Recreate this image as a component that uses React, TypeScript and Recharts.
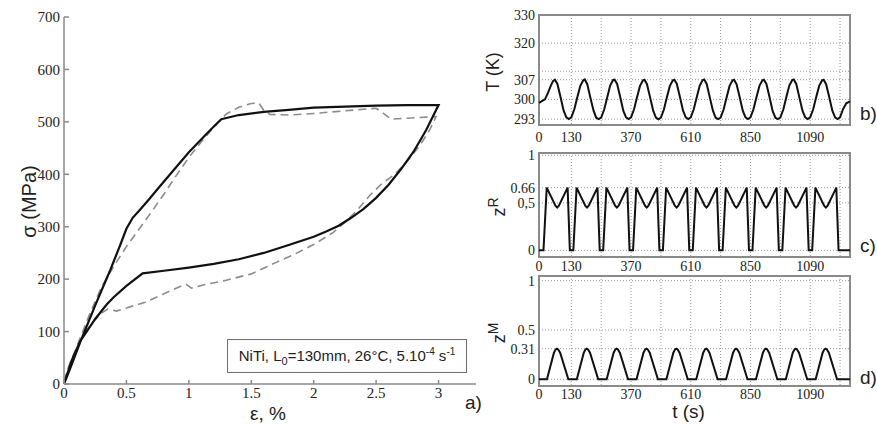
import React from 'react';
import { LineChart, Line, XAxis, YAxis, CartesianGrid, ReferenceArea, Label } from 'recharts';

// a) stress-strain loop (strain in %, stress in MPa)
const strainTicks = [0, 0.5, 1, 1.5, 2, 2.5, 3];
const stressTicks = [0, 100, 200, 300, 400, 500, 600, 700];

// model (solid): loading then unloading
const modelStrain = [0, 0.05, 0.13, 0.25, 0.37, 0.45, 0.5, 0.55, 0.6, 0.68, 0.75, 0.85, 1.0, 1.1, 1.2, 1.26, 1.4, 1.6, 1.8, 2.0, 2.25, 2.5, 2.75, 3.0,
  2.9, 2.8, 2.7, 2.6, 2.5, 2.4, 2.3, 2.2, 2.1, 2.0, 1.8, 1.6, 1.4, 1.2, 1.0, 0.8, 0.63, 0.5, 0.4, 0.34, 0.25, 0.13, 0.06, 0];
const modelStress = [0, 30, 80, 150, 217, 265, 296, 317, 330, 352, 372, 400, 442, 467, 491, 505, 513, 519, 523, 527, 529, 531, 532, 532,
  484, 443, 410, 380, 355, 334, 317, 302, 291, 281, 265, 250, 238, 229, 222, 216, 211, 187, 166, 151, 124, 82, 44, 0];

// experiment (dashed)
const testStrain = [0, 0.04, 0.1, 0.2, 0.3, 0.4, 0.5, 0.6, 0.7, 0.8, 0.9, 1.0, 1.1, 1.2, 1.3, 1.4, 1.5, 1.56, 1.6, 1.65, 1.8, 2.0, 2.2, 2.4, 2.5, 2.55, 2.62, 2.75, 2.9, 2.98,
  2.93, 2.85, 2.75, 2.65, 2.55, 2.45, 2.35, 2.25, 2.15, 2.0, 1.85, 1.7, 1.5, 1.3, 1.1, 1.02, 0.98, 0.93, 0.8, 0.65, 0.5, 0.42, 0.35, 0.3, 0.22, 0.15, 0.08, 0.02, 0];
const testStress = [5, 35, 70, 130, 185, 225, 262, 295, 328, 362, 398, 432, 462, 490, 515, 528, 535, 536, 522, 514, 513, 516, 520, 524, 526, 518, 505, 507, 509, 510,
  485, 455, 425, 400, 383, 360, 332, 308, 288, 266, 248, 232, 210, 198, 188, 183, 190, 186, 172, 156, 145, 139, 143, 135, 115, 90, 55, 20, 8];

// b) c) d) time histories
const timeTicks = [0, 130, 250, 370, 490, 610, 730, 850, 970, 1090, 1210];
const timeTickLabels = [0, 130, 370, 610, 850, 1090];

const tempTime = [0, 10, 24, 36, 48, 57,
  64, 74, 86, 99, 110, 120, 130, 142, 154, 166, 178,
  184, 194, 206, 219, 230, 240, 250, 262, 274, 286, 298,
  304, 314, 326, 339, 350, 360, 370, 382, 394, 406, 418,
  424, 434, 446, 459, 470, 480, 490, 502, 514, 526, 538,
  544, 554, 566, 579, 590, 600, 610, 622, 634, 646, 658,
  664, 674, 686, 699, 710, 720, 730, 742, 754, 766, 778,
  784, 794, 806, 819, 830, 840, 850, 862, 874, 886, 898,
  904, 914, 926, 939, 950, 960, 970, 982, 994, 1006, 1018,
  1024, 1034, 1046, 1059, 1070, 1080, 1090, 1102, 1114, 1126, 1138,
  1144, 1154, 1166, 1179, 1190, 1200, 1210, 1222, 1235, 1250];
const tempK = [298.8, 299.3, 300, 302.3, 305, 306.6,
  307, 305.5, 301, 296, 293.6, 293, 293.6, 296.5, 300.8, 304.8, 306.8,
  307.1, 305.4, 300.8, 296.1, 293.5, 293, 293.5, 296.4, 300.7, 304.9, 306.9,
  307, 305.5, 301, 295.9, 293.6, 293, 293.6, 296.5, 300.8, 304.8, 306.8,
  307, 305.4, 300.9, 296, 293.5, 292.9, 293.5, 296.4, 300.8, 304.8, 306.8,
  307, 305.5, 301, 296, 293.6, 293, 293.6, 296.5, 300.8, 304.9, 306.9,
  307.1, 305.5, 300.9, 296, 293.5, 293, 293.5, 296.4, 300.7, 304.8, 306.8,
  307, 305.4, 301, 296, 293.6, 293, 293.6, 296.5, 300.8, 304.8, 306.8,
  307, 305.5, 301, 295.9, 293.5, 293, 293.5, 296.4, 300.8, 304.9, 306.9,
  307.1, 305.5, 300.9, 296, 293.6, 293, 293.6, 296.5, 300.8, 304.8, 306.8,
  307, 305.4, 301, 296, 293.6, 293, 293.6, 296.5, 298.6, 299.3];
const tempTicks = [293, 300, 307, 310, 320, 330];
const tempTickText = ['293', '300', '307', '', '320', '330'];

const zrTime = [0, 18, 31, 66, 73, 80, 115, 124,
  138, 151, 186, 193, 200, 235, 244,
  258, 271, 306, 313, 320, 355, 364,
  378, 391, 426, 433, 440, 475, 484,
  498, 511, 546, 553, 560, 595, 604,
  618, 631, 666, 673, 680, 715, 724,
  738, 751, 786, 793, 800, 835, 844,
  858, 871, 906, 913, 920, 955, 964,
  978, 991, 1026, 1033, 1040, 1075, 1084,
  1098, 1111, 1146, 1153, 1160, 1195, 1204,
  1250];
const zrValue = [0, 0, 0.66, 0.47, 0.45, 0.47, 0.66, 0,
  0, 0.66, 0.47, 0.45, 0.47, 0.66, 0,
  0, 0.66, 0.47, 0.45, 0.47, 0.66, 0,
  0, 0.66, 0.47, 0.45, 0.47, 0.66, 0,
  0, 0.66, 0.47, 0.45, 0.47, 0.66, 0,
  0, 0.66, 0.47, 0.45, 0.47, 0.66, 0,
  0, 0.66, 0.47, 0.45, 0.47, 0.66, 0,
  0, 0.66, 0.47, 0.45, 0.47, 0.66, 0,
  0, 0.66, 0.47, 0.45, 0.47, 0.66, 0,
  0, 0.66, 0.47, 0.45, 0.47, 0.66, 0,
  0];
const zrTicks = [0, 0.5, 0.66, 1];
const zrTickText = ['0', '0,5', '0.66', '1'];

const zmTime = [0, 32, 60, 67, 72, 77, 85, 118,
  152, 180, 187, 192, 197, 205, 238,
  272, 300, 307, 312, 317, 325, 358,
  392, 420, 427, 432, 437, 445, 478,
  512, 540, 547, 552, 557, 565, 598,
  632, 660, 667, 672, 677, 685, 718,
  752, 780, 787, 792, 797, 805, 838,
  872, 900, 907, 912, 917, 925, 958,
  992, 1020, 1027, 1032, 1037, 1045, 1078,
  1112, 1140, 1147, 1152, 1157, 1165, 1198,
  1250];
const zmValue = [0, 0, 0.27, 0.303, 0.31, 0.303, 0.27, 0,
  0, 0.27, 0.303, 0.31, 0.303, 0.27, 0,
  0, 0.27, 0.303, 0.31, 0.303, 0.27, 0,
  0, 0.27, 0.303, 0.31, 0.303, 0.27, 0,
  0, 0.27, 0.303, 0.31, 0.303, 0.27, 0,
  0, 0.27, 0.303, 0.31, 0.303, 0.27, 0,
  0, 0.27, 0.303, 0.31, 0.303, 0.27, 0,
  0, 0.27, 0.303, 0.31, 0.303, 0.27, 0,
  0, 0.27, 0.303, 0.31, 0.303, 0.27, 0,
  0, 0.27, 0.303, 0.31, 0.303, 0.27, 0,
  0];
const zmTicks = [0, 0.31, 0.5, 1];
const zmTickText = ['0', '0.31', '0.5', '1'];

const serifStyle = { fontFamily: "'Liberation Serif', 'Times New Roman', serif" };
const sansStyle = { fontFamily: "'Liberation Sans', Arial, sans-serif" };
const axisGray = '#8a8a8a';

const modelData = modelStrain.map((e, i) => ({ e, s: modelStress[i] }));
const testData = testStrain.map((e, i) => ({ e, s: testStress[i] }));
const tempData = tempTime.map((t, i) => ({ t, v: tempK[i] }));
const zrData = zrTime.map((t, i) => ({ t, v: zrValue[i] }));
const zmData = zmTime.map((t, i) => ({ t, v: zmValue[i] }));

const StrainTick = (props: any) => {
  const { x, y, payload } = props;
  return (
    <g>
      <line x1={x} x2={x} y1={y - 3} y2={y - 7} stroke={axisGray} strokeWidth={1.5} />
      <text x={x} y={y} dy="0.71em" textAnchor="middle" style={serifStyle} fontSize={15} fill="#222">
        {payload.value}
      </text>
    </g>
  );
};

const StressTick = (props: any) => {
  const { x, y, payload } = props;
  return (
    <g>
      <line x1={x + 4} x2={x + 9} y1={y} y2={y} stroke={axisGray} strokeWidth={1.5} />
      <text x={x} y={y} dy="0.35em" textAnchor="end" style={serifStyle} fontSize={15} fill="#222">
        {payload.value}
      </text>
    </g>
  );
};

const TimeTick = (props: any) => {
  const { x, y, payload } = props;
  const shown = timeTickLabels.includes(payload.value);
  return (
    <text x={x} y={y} dy="0.71em" textAnchor="middle" style={serifStyle} fontSize={14} fill="#222">
      {shown ? String(payload.value) : ''}
    </text>
  );
};

const YTitle = ({ viewBox, text, sup }: any) => {
  const cx = viewBox.x + (sup ? 19 : 13);
  const cy = viewBox.y + viewBox.height / 2 + 2;
  return (
    <text x={cx} y={cy} transform={`rotate(-90 ${cx} ${cy})`} textAnchor="middle" dominantBaseline="central"
      style={sansStyle} fontSize={18} fill="#222">
      {text}
      {sup ? <tspan dy="-0.45em" fontSize={14}>{sup}</tspan> : null}
    </text>
  );
};

function TimePanel({ top, height, marginTop, axisHeight, tickGap, data, domain, ticks, tickText, title, sup, xTitle }: any) {
  const ValueTick = (props: any) => {
    const { x, y, payload } = props;
    return (
      <text x={x} y={y} dy="0.35em" textAnchor="end" style={serifStyle} fontSize={14} fill="#222">
        {tickText[ticks.indexOf(payload.value)]}
      </text>
    );
  };
  return (
    <div style={{ position: 'absolute', left: 480, top, width: 397, height }}>
      <LineChart width={397} height={height} data={data} margin={{ top: marginTop, right: 27, bottom: 0, left: 0 }}>
        <CartesianGrid stroke="#9a9a9a" strokeDasharray="1 2" />
        <XAxis dataKey="t" type="number" domain={[0, 1250]} ticks={timeTicks} interval={0}
          axisLine={false} tickLine={false} tickSize={0} tickMargin={tickGap} height={axisHeight}
          tick={<TimeTick />}>
          {xTitle ? (
            <Label content={({ viewBox }: any) => (
              <text x={viewBox.x + viewBox.width / 2 - 6} y={viewBox.y + 25} textAnchor="middle" dominantBaseline="central"
                style={sansStyle} fontSize={19} fill="#222">{xTitle}</text>
            )} />
          ) : null}
        </XAxis>
        <YAxis type="number" domain={domain} ticks={ticks} interval={0} width={59}
          axisLine={false} tickLine={false} tickSize={0} tickMargin={4}
          tick={<ValueTick />}>
          <Label content={(p: any) => <YTitle {...p} text={title} sup={sup} />} />
        </YAxis>
        <ReferenceArea x1={0} x2={1250} y1={domain[0]} y2={domain[1]} fill="none" stroke={axisGray} strokeWidth={2} ifOverflow="visible" />
        <Line dataKey="v" type="linear" stroke="#111" strokeWidth={2} dot={false} activeDot={false} isAnimationActive={false} />
      </LineChart>
    </div>
  );
}

const panelLetter = (text: string, left: number, top: number) => (
  <div style={{ position: 'absolute', left, top, ...sansStyle, fontSize: 19, lineHeight: 1, color: '#222' }}>{text}</div>
);

export default function App() {
  return (
    <div style={{ position: 'absolute', left: 0, top: 0, width: 877, height: 427, background: '#fff', overflow: 'hidden' }}>
      <div style={{ position: 'absolute', left: 0, top: 0 }}>
        <LineChart width={480} height={427} margin={{ top: 17, right: 4, bottom: 0, left: 0 }}>
          <XAxis dataKey="e" type="number" domain={[0, 3.3]} ticks={strainTicks} interval={0} height={43}
            axisLine={{ stroke: axisGray, strokeWidth: 1.5 }} tickLine={false} tickSize={0} tickMargin={3}
            tick={<StrainTick />}>
            <Label content={({ viewBox }: any) => (
              <text x={viewBox.x + viewBox.width / 2 - 2} y={viewBox.y + 29} textAnchor="middle" dominantBaseline="central"
                style={sansStyle} fontSize={19} fill="#222">ε, %</text>
            )} />
          </XAxis>
          <YAxis type="number" domain={[0, 700]} ticks={stressTicks} interval={0} width={64}
            axisLine={{ stroke: axisGray, strokeWidth: 1.5 }} tickLine={false} tickSize={0} tickMargin={4}
            tick={<StressTick />}>
            <Label content={({ viewBox }: any) => {
              const cx = viewBox.x + 29;
              const cy = viewBox.y + viewBox.height / 2 + 1;
              return (
                <text x={cx} y={cy} transform={`rotate(-90 ${cx} ${cy})`} textAnchor="middle" dominantBaseline="central"
                  style={sansStyle} fontSize={20} fill="#222">σ (MPa)</text>
              );
            }} />
          </YAxis>
          <Line data={testData} dataKey="s" type="linear" stroke="#8c8c8c" strokeWidth={1.6} strokeDasharray="8 5"
            dot={false} activeDot={false} isAnimationActive={false} />
          <Line data={modelData} dataKey="s" type="linear" stroke="#111" strokeWidth={2.2}
            dot={false} activeDot={false} isAnimationActive={false} />
        </LineChart>
      </div>

      <div style={{ position: 'absolute', left: 227, top: 339, width: 238, height: 32, border: '1px solid #6e6e6e',
        ...sansStyle, fontSize: 15, color: '#222', display: 'flex', alignItems: 'center', justifyContent: 'center', whiteSpace: 'nowrap' }}>
        <span>NiTi, L<sub style={{ fontSize: 11 }}>0</sub>=130mm, 26°C, 5.10<sup style={{ fontSize: 10 }}>-4</sup> s<sup style={{ fontSize: 10 }}>-1</sup></span>
      </div>
      {panelLetter('a)', 465, 393)}

      <TimePanel top={0} height={160} marginTop={15} axisHeight={35} tickGap={7} data={tempData}
        domain={[290.9, 330]} ticks={tempTicks} tickText={tempTickText} title="T (K)" />
      <TimePanel top={140} height={150} marginTop={13} axisHeight={33} tickGap={4} data={zrData}
        domain={[-0.07, 1.024]} ticks={zrTicks} tickText={zrTickText} title="z" sup="R" />
      <TimePanel top={262} height={165} marginTop={14} axisHeight={41} tickGap={3} data={zmData}
        domain={[-0.068, 1.047]} ticks={zmTicks} tickText={zmTickText} title="z" sup="M" xTitle="t (s)" />

      {panelLetter('b)', 860, 104)}
      {panelLetter('c)', 860, 236)}
      {panelLetter('d)', 860, 368)}
    </div>
  );
}
